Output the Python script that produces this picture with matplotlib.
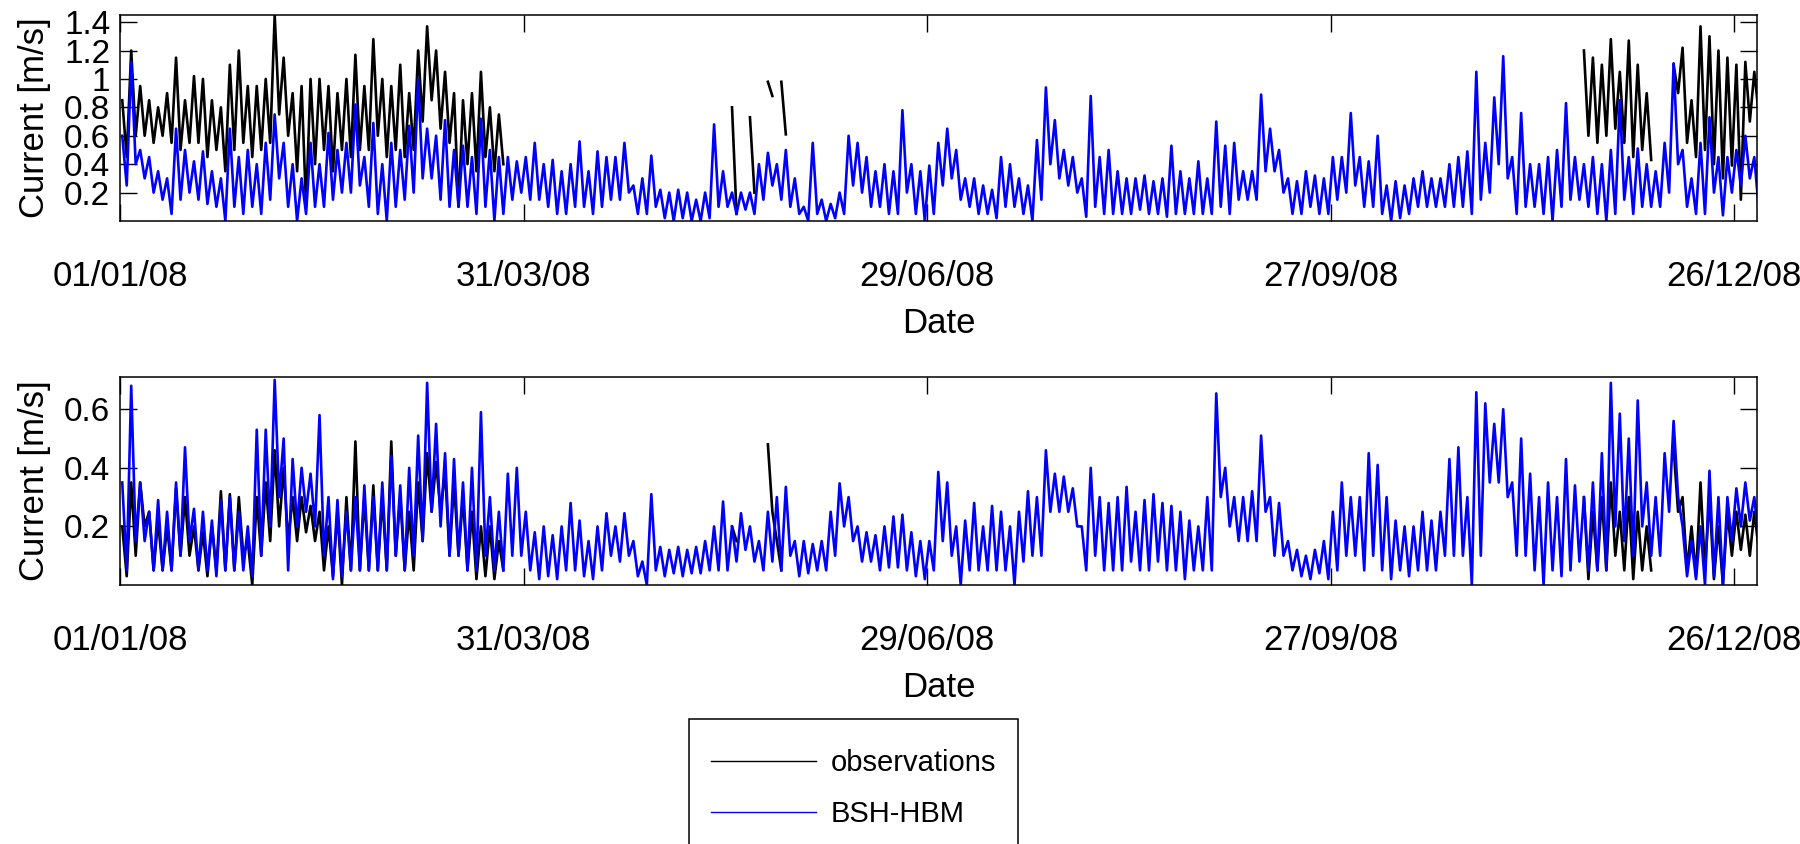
import matplotlib
matplotlib.use("Agg")
import matplotlib.pyplot as plt
import matplotlib.dates as mdates
from matplotlib.patches import Rectangle
from datetime import datetime, timedelta

plt.rcParams['font.family'] = ['Liberation Sans', 'DejaVu Sans']

T0 = datetime(2008, 1, 1)
tick_days = [0, 90, 180, 270, 360]

# values as (high, low) per 2-day bin, starting at the given day

# BSH-HBM, upper panel
model_top_hi = [
    0.6, 1.12, 0.5, 0.45, 0.35, 0.3, 0.65, 0.5, 0.42, 0.49,
    0.35, 0.3, 0.65, 0.45, 0.5, 0.4, 0.55, 0.75, 0.55, 0.4,
    0.3, 0.55, 0.4, 0.62, 0.5, 0.55, 0.82, 0.45, 0.69, 0.4,
    0.55, 0.5, 0.67, 1.0, 0.65, 0.6, 0.71, 0.5, 0.53, 0.45,
    0.72, 0.5, 0.45, 0.45, 0.42, 0.45, 0.55, 0.4, 0.43, 0.35,
    0.4, 0.56, 0.35, 0.49, 0.45, 0.45, 0.55, 0.25, 0.3, 0.46,
    0.22, 0.2, 0.22, 0.2, 0.15, 0.2, 0.68, 0.35, 0.2, 0.2,
    0.2, 0.4, 0.48, 0.4, 0.5, 0.3, 0.1, 0.55, 0.15, 0.12,
    0.2, 0.6, 0.55, 0.45, 0.35, 0.4, 0.35, 0.78, 0.4, 0.35,
    0.39, 0.55, 0.65, 0.5, 0.3, 0.3, 0.25, 0.22, 0.45, 0.4,
    0.3, 0.25, 0.57, 0.94, 0.71, 0.5, 0.45, 0.3, 0.88, 0.45,
    0.5, 0.35, 0.3, 0.3, 0.32, 0.28, 0.3, 0.53, 0.35, 0.3,
    0.42, 0.3, 0.7, 0.53, 0.55, 0.35, 0.35, 0.89, 0.65, 0.5,
    0.3, 0.28, 0.35, 0.32, 0.3, 0.45, 0.45, 0.76, 0.45, 0.42,
    0.6, 0.25, 0.28, 0.25, 0.3, 0.35, 0.3, 0.3, 0.4, 0.45,
    0.49, 1.05, 0.55, 0.87, 1.16, 0.45, 0.76, 0.4, 0.4, 0.45,
    0.5, 0.83, 0.45, 0.4, 0.45, 0.4, 0.5, 0.85, 0.45, 0.51,
    0.4, 0.35, 0.55, 1.11, 0.5, 0.3, 0.55, 0.73, 0.45, 0.45,
    0.5, 0.6, 0.45,
]
model_top_lo = [
    0.25, 0.4, 0.3, 0.2, 0.15, 0.05, 0.15, 0.2, 0.15, 0.12,
    0.1, 0.0, 0.1, 0.05, 0.1, 0.05, 0.15, 0.3, 0.1, 0.0,
    0.05, 0.1, 0.1, 0.15, 0.2, 0.2, 0.25, 0.1, 0.05, 0.0,
    0.1, 0.15, 0.2, 0.3, 0.3, 0.15, 0.1, 0.1, 0.1, 0.05,
    0.1, 0.0, 0.05, 0.15, 0.2, 0.15, 0.15, 0.1, 0.05, 0.05,
    0.1, 0.1, 0.05, 0.1, 0.15, 0.15, 0.2, 0.05, 0.05, 0.1,
    0.02, 0.0, 0.02, 0.0, 0.0, 0.02, 0.1, 0.1, 0.05, 0.08,
    0.05, 0.15, 0.25, 0.15, 0.1, 0.05, 0.0, 0.05, 0.0, 0.02,
    0.05, 0.25, 0.2, 0.1, 0.1, 0.05, 0.05, 0.2, 0.05, 0.0,
    0.05, 0.25, 0.3, 0.15, 0.1, 0.05, 0.05, 0.02, 0.1, 0.1,
    0.05, 0.0, 0.15, 0.4, 0.3, 0.25, 0.2, 0.03, 0.1, 0.05,
    0.05, 0.05, 0.05, 0.08, 0.05, 0.05, 0.03, 0.05, 0.05, 0.05,
    0.05, 0.05, 0.1, 0.05, 0.15, 0.15, 0.15, 0.35, 0.35, 0.2,
    0.05, 0.05, 0.1, 0.05, 0.05, 0.15, 0.2, 0.25, 0.1, 0.1,
    0.05, 0.0, 0.02, 0.05, 0.1, 0.1, 0.1, 0.1, 0.1, 0.1,
    0.05, 0.15, 0.2, 0.4, 0.3, 0.05, 0.1, 0.1, 0.05, 0.0,
    0.1, 0.15, 0.15, 0.1, 0.05, 0.0, 0.05, 0.15, 0.05, 0.1,
    0.1, 0.1, 0.2, 0.4, 0.1, 0.05, 0.05, 0.2, 0.04, 0.2,
    0.25, 0.3, 0.08,
]

# BSH-HBM, lower panel
model_bot_hi = [
    0.35, 0.68, 0.35, 0.25, 0.29, 0.25, 0.35, 0.47, 0.26, 0.25,
    0.22, 0.29, 0.3, 0.25, 0.2, 0.53, 0.53, 0.7, 0.5, 0.43,
    0.4, 0.38, 0.58, 0.3, 0.29, 0.25, 0.3, 0.34, 0.3, 0.35,
    0.44, 0.34, 0.4, 0.51, 0.69, 0.55, 0.45, 0.43, 0.35, 0.4,
    0.59, 0.3, 0.25, 0.38, 0.4, 0.25, 0.18, 0.2, 0.17, 0.2,
    0.28, 0.22, 0.15, 0.2, 0.245, 0.2, 0.245, 0.15, 0.08, 0.31,
    0.13, 0.12, 0.13, 0.12, 0.13, 0.15, 0.2, 0.285, 0.2, 0.245,
    0.2, 0.15, 0.25, 0.3, 0.335, 0.15, 0.15, 0.14, 0.15, 0.25,
    0.347, 0.3, 0.2, 0.18, 0.17, 0.2, 0.234, 0.24, 0.18, 0.15,
    0.15, 0.386, 0.35, 0.2, 0.22, 0.28, 0.2, 0.27, 0.25, 0.2,
    0.25, 0.32, 0.3, 0.46, 0.38, 0.37, 0.33, 0.2, 0.4, 0.3,
    0.28, 0.3, 0.335, 0.25, 0.29, 0.31, 0.28, 0.27, 0.25, 0.22,
    0.2, 0.3, 0.654, 0.4, 0.3, 0.3, 0.32, 0.51, 0.3, 0.28,
    0.15, 0.12, 0.1, 0.12, 0.15, 0.25, 0.35, 0.3, 0.3, 0.45,
    0.41, 0.3, 0.22, 0.2, 0.2, 0.25, 0.22, 0.25, 0.43, 0.47,
    0.3, 0.658, 0.62, 0.55, 0.6, 0.35, 0.5, 0.38, 0.3, 0.35,
    0.3, 0.43, 0.34, 0.3, 0.35, 0.45, 0.69, 0.585, 0.5, 0.63,
    0.35, 0.3, 0.45, 0.56, 0.2, 0.15, 0.2, 0.39, 0.3, 0.3,
    0.33, 0.35, 0.3,
]
model_bot_lo = [
    0.05, 0.15, 0.15, 0.05, 0.05, 0.05, 0.1, 0.15, 0.05, 0.05,
    0.03, 0.05, 0.05, 0.05, 0.03, 0.1, 0.2, 0.3, 0.05, 0.2,
    0.25, 0.2, 0.1, 0.02, 0.03, 0.05, 0.05, 0.05, 0.05, 0.05,
    0.1, 0.05, 0.1, 0.15, 0.25, 0.2, 0.1, 0.1, 0.05, 0.05,
    0.1, 0.05, 0.05, 0.1, 0.1, 0.05, 0.02, 0.03, 0.02, 0.05,
    0.05, 0.03, 0.02, 0.05, 0.1, 0.08, 0.1, 0.03, 0.0, 0.05,
    0.03, 0.04, 0.03, 0.04, 0.04, 0.05, 0.05, 0.05, 0.08, 0.12,
    0.08, 0.05, 0.08, 0.05, 0.1, 0.03, 0.04, 0.05, 0.05, 0.1,
    0.2, 0.15, 0.08, 0.08, 0.05, 0.06, 0.06, 0.05, 0.03, 0.02,
    0.05, 0.15, 0.1, 0.0, 0.05, 0.05, 0.05, 0.05, 0.05, 0.0,
    0.08, 0.1, 0.1, 0.25, 0.25, 0.25, 0.2, 0.05, 0.1, 0.05,
    0.05, 0.05, 0.08, 0.05, 0.05, 0.08, 0.05, 0.05, 0.02, 0.05,
    0.05, 0.05, 0.3, 0.2, 0.15, 0.15, 0.15, 0.25, 0.1, 0.1,
    0.05, 0.03, 0.02, 0.04, 0.02, 0.05, 0.1, 0.1, 0.05, 0.1,
    0.05, 0.02, 0.05, 0.03, 0.05, 0.05, 0.05, 0.1, 0.1, 0.1,
    0.0, 0.1, 0.35, 0.35, 0.3, 0.1, 0.1, 0.05, 0.0, 0.05,
    0.03, 0.05, 0.08, 0.05, 0.05, 0.05, 0.2, 0.15, 0.1, 0.2,
    0.1, 0.1, 0.25, 0.3, 0.03, 0.02, 0.0, 0.03, 0.0, 0.15,
    0.2, 0.22, 0.15,
]

# observations, upper panel (pieces with gaps)
obs_top_start = [0, 136, 140, 144, 147, 326, 346]
obs_top_hi = [
    [0.85, 1.2, 0.95, 0.85, 0.8, 0.9, 1.15, 0.85, 1.02, 1.0,
     0.85, 0.8, 1.1, 1.2, 0.95, 0.95, 1.0, 1.45, 1.15, 0.9,
     0.95, 1.0, 1.0, 0.95, 0.9, 1.0, 1.17, 0.95, 1.28, 1.0,
     0.95, 1.1, 0.9, 1.2, 1.37, 1.2, 1.05, 0.9, 0.85, 0.9,
     1.05, 0.8, 0.75],
    [0.8], [0.73], [0.98], [0.98],
    [1.2, 1.15, 1.1, 1.28, 1.05, 1.27, 1.1, 0.9],
    [1.1, 1.22, 0.85, 1.37, 1.3, 1.2, 1.15, 1.1, 1.12, 1.05],
]
obs_top_lo = [
    [0.45, 0.6, 0.6, 0.55, 0.6, 0.55, 0.5, 0.55, 0.55, 0.45,
     0.5, 0.35, 0.5, 0.55, 0.45, 0.5, 0.55, 0.75, 0.6, 0.35,
     0.1, 0.4, 0.5, 0.35, 0.5, 0.45, 0.5, 0.5, 0.6, 0.45,
     0.5, 0.45, 0.5, 0.7, 0.85, 0.65, 0.55, 0.1, 0.4, 0.35,
     0.45, 0.35, 0.4],
    [0.05], [0.2], [0.88], [0.61],
    [0.6, 0.55, 0.6, 0.65, 0.55, 0.45, 0.5, 0.43],
    [0.9, 0.55, 0.45, 0.5, 0.4, 0.3, 0.39, 0.15, 0.7, 0.75],
]

# observations, lower panel
obs_bot_start = [0, 136, 144, 326, 346]
obs_bot_hi = [
    [0.2, 0.35, 0.35, 0.25, 0.22, 0.2, 0.33, 0.3, 0.2, 0.18,
     0.2, 0.32, 0.31, 0.3, 0.15, 0.3, 0.35, 0.46, 0.4, 0.3,
     0.3, 0.27, 0.25, 0.2, 0.25, 0.3, 0.49, 0.3, 0.34, 0.3,
     0.49, 0.3, 0.25, 0.35, 0.45, 0.42, 0.39, 0.35, 0.3, 0.25,
     0.2, 0.2, 0.15],
    [0.2], [0.48, 0.15],
    [0.3, 0.25, 0.3, 0.35, 0.25, 0.3, 0.25, 0.2],
    [0.47, 0.3, 0.2, 0.35, 0.3, 0.2, 0.25, 0.25, 0.24, 0.25],
]
obs_bot_lo = [
    [0.03, 0.1, 0.2, 0.05, 0.05, 0.05, 0.1, 0.1, 0.05, 0.03,
     0.05, 0.05, 0.05, 0.1, 0.0, 0.1, 0.15, 0.2, 0.15, 0.15,
     0.18, 0.15, 0.05, 0.03, 0.0, 0.05, 0.05, 0.05, 0.05, 0.05,
     0.1, 0.05, 0.05, 0.15, 0.25, 0.25, 0.1, 0.1, 0.05, 0.02,
     0.03, 0.02, 0.05],
    [0.15], [0.25, 0.05],
    [0.02, 0.05, 0.05, 0.1, 0.05, 0.02, 0.05, 0.05],
    [0.25, 0.05, 0.03, 0.05, 0.02, 0.0, 0.1, 0.12, 0.1, 0.12],
]


def zigzag(day0, hi, lo):
    days, vals = [], []
    for k in range(len(hi)):
        days += [day0 + 2 * k + 0.5, day0 + 2 * k + 1.5]
        vals += [hi[k], lo[k]]
    return [T0 + timedelta(days=d) for d in days], vals


def panel(ax, obs_start, obs_hi, obs_lo, mod_hi, mod_lo, ylim, yticks):
    for d0, h, l in zip(obs_start, obs_hi, obs_lo):
        t, v = zigzag(d0, h, l)
        obs_line, = ax.plot(t, v, color='black', lw=1.9)
    t, v = zigzag(0, mod_hi, mod_lo)
    mod_line, = ax.plot(t, v, color='#0000ff', lw=1.9)

    ax.set_xlim(T0, T0 + timedelta(days=365.1))
    ax.set_ylim(*ylim)
    ax.set_xticks([T0 + timedelta(days=d) for d in tick_days])
    ax.xaxis.set_major_formatter(mdates.DateFormatter('%d/%m/%y'))
    ax.set_yticks(yticks)
    ax.set_yticklabels(['%g' % y for y in yticks])
    ax.tick_params(direction='in', length=12, width=1, top=True, right=True,
                   labelsize=25)
    ax.tick_params(axis='x', pad=28)
    ax.tick_params(axis='y', pad=7, labelsize=24)
    ax.set_xlabel('Date', fontsize=25, labelpad=10)
    ax.set_ylabel('Current [m/s]', fontsize=25)
    ax.yaxis.set_label_coords(-0.042, 0.5)
    for s in ax.spines.values():
        s.set_linewidth(1.1)
    return obs_line, mod_line


W, H = 1800, 844
fig = plt.figure(figsize=(W / 100, H / 100), dpi=100)
ax_top = fig.add_axes([120 / W, 1 - 221 / H, 1637 / W, 206 / H])
ax_bot = fig.add_axes([120 / W, 1 - 585 / H, 1637 / W, 208 / H])

panel(ax_top, obs_top_start, obs_top_hi, obs_top_lo, model_top_hi, model_top_lo,
      (0.0, 1.45), [0.2, 0.4, 0.6, 0.8, 1.0, 1.2, 1.4])
h_obs, h_mod = panel(ax_bot, obs_bot_start, obs_bot_hi, obs_bot_lo,
                     model_bot_hi, model_bot_lo, (0.0, 0.71), [0.2, 0.4, 0.6])

leg = fig.legend([h_obs, h_mod], ['observations', 'BSH-HBM'], loc='upper left',
                 bbox_to_anchor=(689 / W, 1 - 727 / H), frameon=False, fontsize=21,
                 borderpad=0.75, borderaxespad=0, handlelength=3.6,
                 handletextpad=0.5, labelspacing=0.8)
for ln in leg.get_lines():
    ln.set_linewidth(1.0)

# legend box runs off the bottom edge of the figure, as in the original
fig.canvas.draw()
bb = leg.get_window_extent()
top = 1 - 719 / H
frame = Rectangle((bb.x0 / W, -0.05), (bb.x1 - bb.x0) / W, top + 0.05,
                  transform=fig.transFigure, fill=False, edgecolor='black',
                  lw=1.1, clip_on=False)
fig.add_artist(frame)

fig.savefig('out.png', dpi=100)
